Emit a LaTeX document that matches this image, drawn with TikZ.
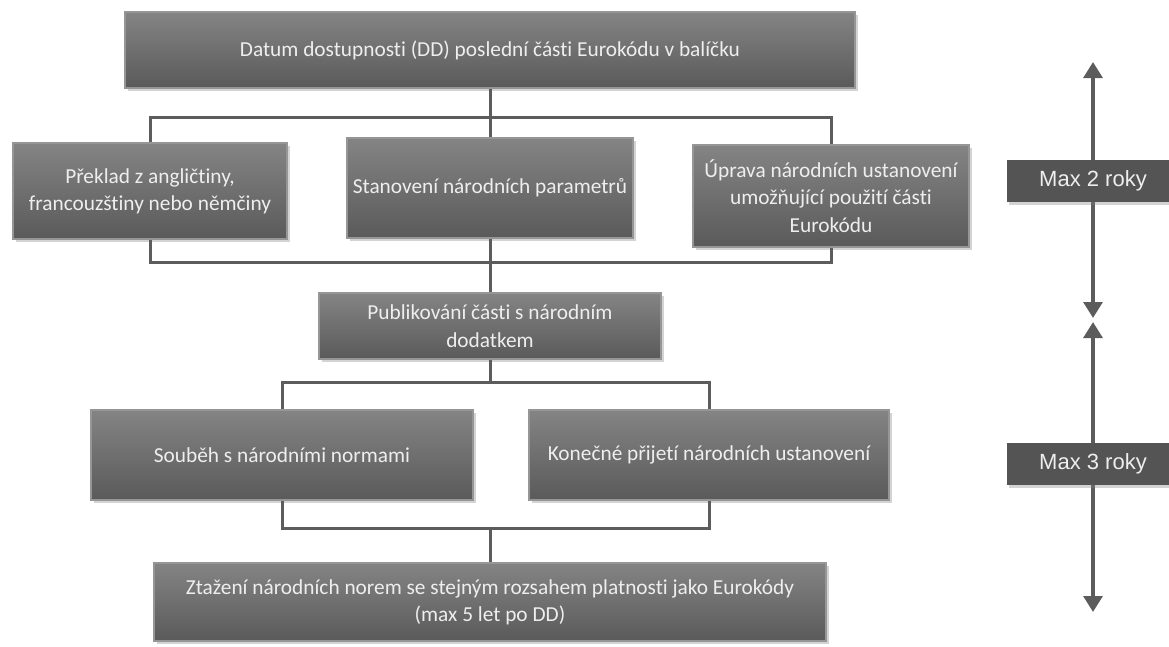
\documentclass[tikz,border=0pt]{standalone}
\usepackage{fontspec}
\setmainfont{Carlito}[Ligatures=NoCommon]
\newfontfamily\lblfont{Liberation Sans}
\usetikzlibrary{arrows.meta,shadows}

\definecolor{boxtop}{RGB}{132,132,132}
\definecolor{boxbot}{RGB}{90,90,90}
\definecolor{boxedge}{RGB}{150,150,150}
\definecolor{boxtext}{RGB}{238,238,238}
\definecolor{linkgray}{RGB}{92,92,92}
\definecolor{lblfill}{RGB}{84,84,84}
\def\px{0.75pt}

\begin{document}
\begin{tikzpicture}[x=\px, y=-\px,
    stage/.style={top color=boxtop, bottom color=boxbot, draw=boxedge, line width=0.8pt,
        text=boxtext, align=center, inner sep=2pt,
        font=\fontsize{16}{20.5}\selectfont,
        drop shadow={shadow xshift=2pt, shadow yshift=-2pt, opacity=0.35}},
    link/.style={draw=linkgray, line width=2.25pt},
    timearrow/.style={draw=linkgray, line width=3.5pt, {Triangle[width=14pt,length=12pt]}-{Triangle[width=14pt,length=12pt]}},
    lbl/.style={fill=lblfill, text=boxtext, minimum width=173*\px, minimum height=42*\px,
        font=\lblfont\fontsize{16.5}{19}\selectfont,
        drop shadow={shadow xshift=2pt, shadow yshift=-2pt, opacity=0.35}}]
    \useasboundingbox (0,0) rectangle (1169,646);
    \clip (0,0) rectangle (1169,646);

    \node[stage, minimum width=730*\px, minimum height=76*\px] (dd) at (490,50) {Datum dostupnosti (DD) poslední části Eurokódu v balíčku};
    \node[stage, minimum width=274*\px, minimum height=96*\px] (trans) at (150,191) {Překlad z angličtiny,\\francouzštiny nebo němčiny};
    \node[stage, minimum width=286*\px, minimum height=100*\px] (param) at (490,188) {Stanovení národních parametrů};
    \node[stage, minimum width=276*\px, minimum height=102*\px] (upr) at (831,196) {Úprava národních ustanovení\\umožňující použití části\\Eurokódu};
    \node[stage, minimum width=342*\px, minimum height=66*\px] (pub) at (490,326) {Publikování části s národním\\dodatkem};
    \node[stage, minimum width=382*\px, minimum height=90*\px] (soub) at (282,455) {Souběh s národními normami};
    \node[stage, minimum width=360*\px, minimum height=90*\px] (kon) at (709,455) {Konečné přijetí národních ustanovení};
    \node[stage, minimum width=672*\px, minimum height=78*\px] (ztaz) at (490,602) {Ztažení národních norem se stejným rozsahem platnosti jako Eurokódy\\(max 5 let po DD)};

    \coordinate (b1) at (490,117);
    \coordinate (b2) at (490,262);
    \coordinate (b3) at (490,382);
    \coordinate (b4) at (490,528);

    \draw[link] (dd.south) -- (param.north);
    \draw[link] (trans.north) |- (b1) -| (upr.north);
    \draw[link] (param.south) -- (pub.north);
    \draw[link] (trans.south) |- (b2) -| (upr.south);
    \draw[link] (pub.south) -- (b3);
    \draw[link] (soub.north) |- (b3) -| (kon.north);
    \draw[link] (soub.south) |- (b4) -| (kon.south);
    \draw[link] (b4) -- (ztaz.north);

    \coordinate (t0) at (1093,62);
    \coordinate (t1) at (1093,318);
    \coordinate (t2) at (1093,322);
    \coordinate (t3) at (1093,612);
    \draw[timearrow] (t0) -- (t1);
    \draw[timearrow] (t2) -- (t3);

    \node[lbl] (max2) at (1093,181) {Max 2 roky};
    \node[lbl] (max3) at (1093,464) {Max 3 roky};
\end{tikzpicture}
\end{document}
